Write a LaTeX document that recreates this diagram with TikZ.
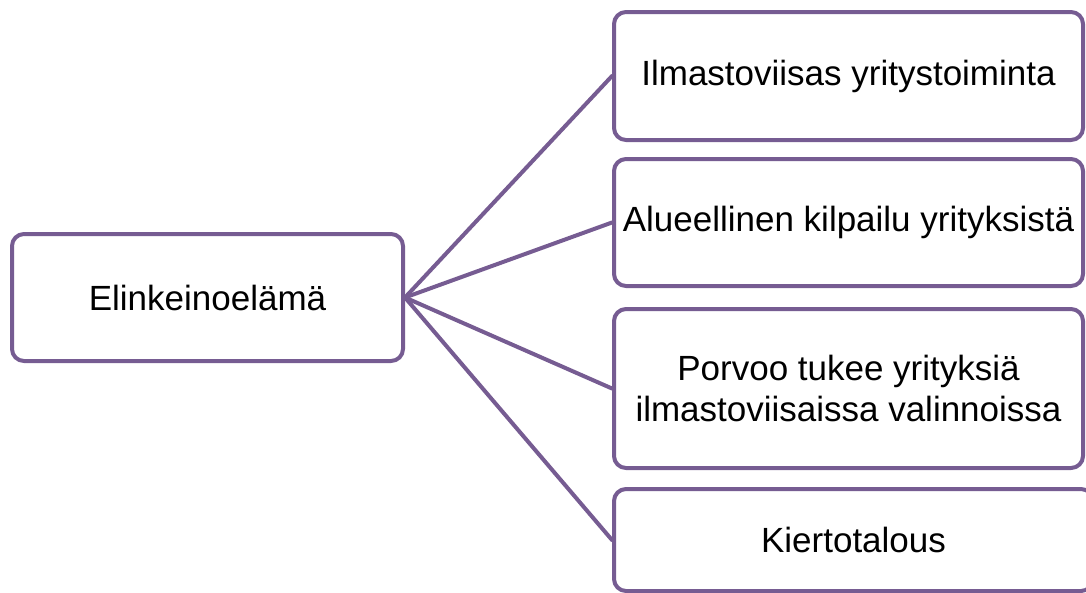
\documentclass[tikz,border=0pt]{standalone}
\usepackage{fontspec}
\setmainfont{Liberation Sans}
\definecolor{boxline}{RGB}{118,92,146}
\begin{document}
\begin{tikzpicture}[line cap=round,line join=round,x=1pt,y=-1pt,
  box/.style={draw=boxline,line width=4pt,rounded corners=12pt,fill=white,
    align=center,inner sep=0pt,font=\fontsize{35}{41}\selectfont},
  link/.style={draw=boxline,line width=4pt}]
\useasboundingbox (0,0) rectangle (1086,592);
\node[box,minimum width=391pt,minimum height=127pt] (elinkeino) at (207.5,297.5) {Elinkeinoelämä};
\node[box,minimum width=469pt,minimum height=128pt] (ilmasto) at (848.5,76) {Ilmastoviisas yritystoiminta};
\node[box,minimum width=469pt,minimum height=127pt] (kilpailu) at (848.5,222.5) {Alueellinen kilpailu yrityksistä};
\node[box,minimum width=469pt,minimum height=159pt] (tuki) at (848.5,388.5) {Porvoo tukee yrityksiä\\ilmastoviisaissa valinnoissa};
\node[box,minimum width=479pt,minimum height=102pt] (kierto) at (853.5,540) {Kiertotalous};
\foreach \n in {ilmasto,kilpailu,tuki,kierto}
{
\draw[link] (elinkeino.east)--(\n.west);
}
\end{tikzpicture}
\end{document}
